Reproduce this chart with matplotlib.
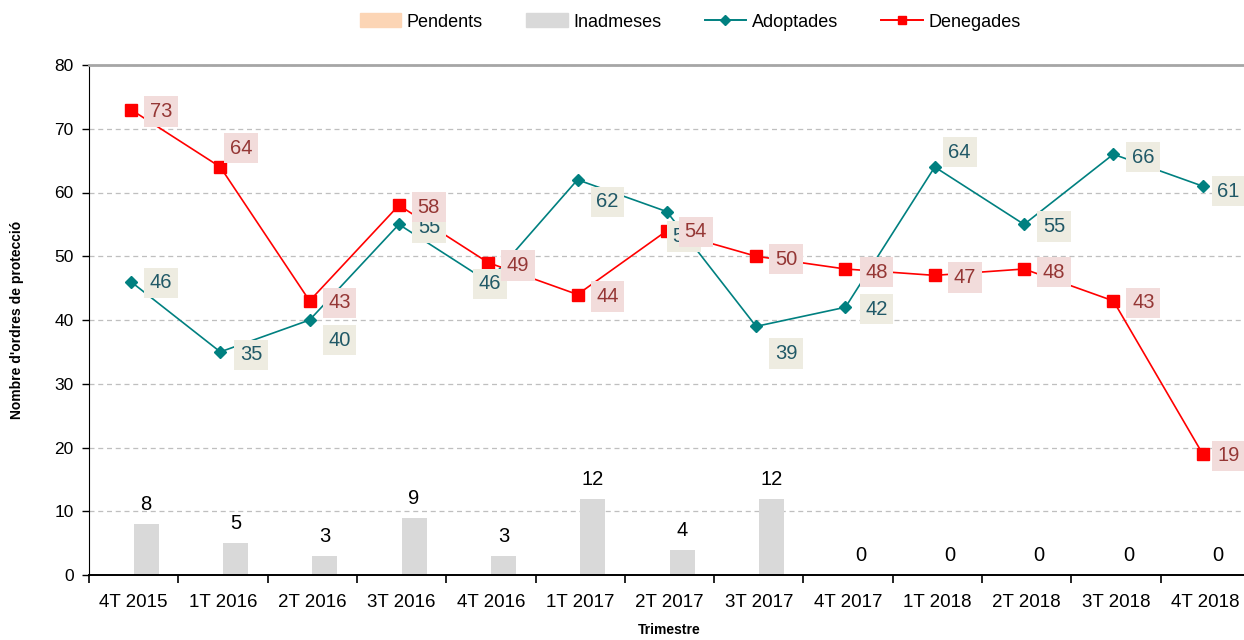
import matplotlib
matplotlib.use("Agg")
import matplotlib.pyplot as plt
import numpy as np
from matplotlib.patches import Patch
from matplotlib.lines import Line2D

categories = ["4T 2015", "1T 2016", "2T 2016", "3T 2016", "4T 2016", "1T 2017", "2T 2017",
              "3T 2017", "4T 2017", "1T 2018", "2T 2018", "3T 2018", "4T 2018"]
pendents = [0, 0, 0, 0, 0, 0, 0, 0, 0, 0, 0, 0, 0]
inadmeses = [8, 5, 3, 9, 3, 12, 4, 12, 0, 0, 0, 0, 0]
adoptades = [46, 35, 40, 55, 46, 62, 57, 39, 42, 64, 55, 66, 61]
denegades = [73, 64, 43, 58, 49, 44, 54, 50, 48, 47, 48, 43, 19]

# label offsets in pixels (dx, dy) - layout only
adopt_off = [(30, -1), (31, -3), (30, -20), (30, -3), (2, -2), (30, -22), (17, -25),
             (30, -27), (31, -2), (25, 15), (30, -2), (30, -3), (26, -5)]
deneg_off = [(30, -2), (21, 19), (30, -2), (30, -2), (30, -3), (30, -2), (29, -1),
             (30, -3), (31, -3), (30, -2), (30, -3), (30, -2), (26, -2)]

FONT = ['Liberation Sans', 'DejaVu Sans']
plt.rcParams['font.family'] = FONT

W, H = 1244, 640
fig = plt.figure(figsize=(W / 100, H / 100), dpi=100)
ax = fig.add_axes([89 / W, 1 - 575 / H, 1161 / W, (575 - 65) / H])

x = np.arange(len(categories))
bw = 0.28
teal = "#008080"
red = "#FF0000"

ax.bar(x - bw / 2, pendents, width=bw, color="#FCD5B5", zorder=2)
ax.bar(x + bw / 2, inadmeses, width=bw, color="#D9D9D9", zorder=2)
for xi, v in zip(x, inadmeses):
    ax.annotate(str(v), (xi + bw / 2, v), xytext=(0, 7), textcoords="offset points",
                ha="center", va="bottom", fontsize=14.5, color="black")

ax.plot(x - 0.03, adoptades, color=teal, marker="D", markersize=6.5, lw=1.2, zorder=3)
ax.plot(x - 0.03, denegades, color=red, marker="s", markersize=8.5, lw=1.2, zorder=4)

for xi, v, (dx, dy) in zip(x, adoptades, adopt_off):
    ax.annotate(str(v), (xi - 0.03, v), xytext=(dx * 0.72, dy * 0.72), textcoords="offset points",
                ha="center", va="center", fontsize=14.5, color="#215967", zorder=5,
                bbox=dict(boxstyle="square,pad=0.28", fc="#EEECE1", ec="none"))
for xi, v, (dx, dy) in zip(x, denegades, deneg_off):
    ax.annotate(str(v), (xi - 0.03, v), xytext=(dx * 0.72, dy * 0.72), textcoords="offset points",
                ha="center", va="center", fontsize=14.5, color="#953735", zorder=6,
                bbox=dict(boxstyle="square,pad=0.28", fc="#F2DCDB", ec="none"))

ax.set_xlim(-0.5, len(categories) - 0.5)
ax.set_ylim(0, 80)
ax.set_yticks(range(0, 81, 10))
ax.set_xticks(x)
ax.set_xticklabels(categories, fontsize=13.5)
ax.set_xticks(np.arange(-0.5, len(categories), 1), minor=True)
ax.tick_params(axis="x", which="major", length=0, pad=14)
ax.tick_params(axis="x", which="minor", length=6, width=1.2, direction="out")
ax.tick_params(axis="y", length=5, width=1, direction="out", labelsize=12.5, pad=6)
ax.yaxis.grid(True, ls=(0, (4, 3)), color="#BFBFBF", lw=0.9, zorder=0)
ax.set_axisbelow(True)

ax.spines["right"].set_visible(False)
ax.spines["top"].set_color("#A6A6A6")
ax.spines["top"].set_linewidth(2)
ax.spines["left"].set_color("black")
ax.spines["bottom"].set_color("black")
ax.spines["bottom"].set_linewidth(1.4)

ax.set_ylabel("Nombre d'ordres de protecció", fontsize=10, fontweight="bold", labelpad=22)
ax.set_xlabel("Trimestre", fontsize=10, fontweight="bold", labelpad=8)

handles = [Patch(color="#FCD5B5", label="Pendents"),
           Patch(color="#D9D9D9", label="Inadmeses"),
           Line2D([], [], color=teal, marker="D", markersize=5, lw=1.4, label="Adoptades"),
           Line2D([], [], color=red, marker="s", markersize=6, lw=1.4, label="Denegades")]
fig.legend(handles=handles, loc="center", bbox_to_anchor=(690 / W, 1 - 22 / H), ncol=4,
           frameon=False, fontsize=13, handlelength=2.3, handletextpad=0.3,
           columnspacing=2.4, handleheight=0.8)

fig.savefig("out.png", dpi=100)
